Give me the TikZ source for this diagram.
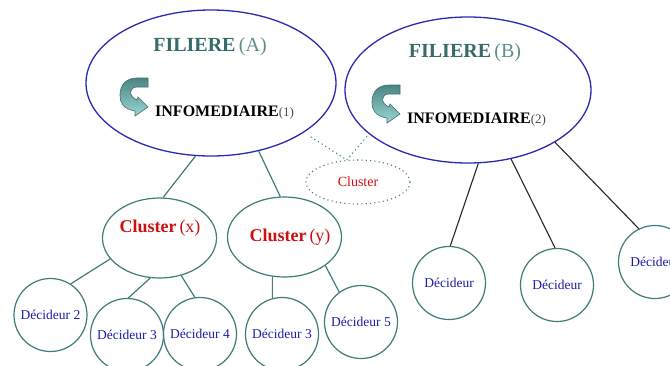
\documentclass[tikz,border=0pt]{standalone}
\usepackage{fontspec}
\setmainfont{Liberation Serif}
\usetikzlibrary{shapes.geometric}
\definecolor{tealc}{HTML}{3F7B79}
\definecolor{bluec}{HTML}{2A2AB0}
\definecolor{filc}{HTML}{356B69}
\definecolor{filc2}{HTML}{5F8F8D}
\definecolor{redc}{HTML}{D01010}
\definecolor{decc}{HTML}{1C1CA8}
\definecolor{arrdark}{HTML}{4A8583}
\definecolor{arrlight}{HTML}{9AD6D4}
\definecolor{arredge}{HTML}{3C6E6C}
\tikzset{
  uturn/.pic={
    \path[draw=arredge, line width=0.6pt, top color=arrdark, bottom color=arrlight]
      (28,0) -- (28,9) -- (17,9) .. controls (9,9) and (8,18) .. (17,22)
      -- (18,19) -- (28,29) -- (15,38) -- (15,33)
      .. controls (3,31) and (0,25) .. (0,17)
      .. controls (0,6) and (7,0) .. (17,0) -- cycle;
  }
}
\begin{document}
\begin{tikzpicture}[x=1pt,y=-1pt,
  fil/.style={ellipse, draw=bluec, line width=1.3pt, inner sep=0},
  clu/.style={ellipse, draw=tealc, line width=1.2pt, inner sep=0, minimum width=114pt, minimum height=80pt},
  dec/.style={circle, draw=tealc, line width=1.2pt, inner sep=0, minimum size=73pt, text=decc, font=\fontsize{13.5}{14}\selectfont},
  link/.style={draw=tealc, line width=1.2pt},
  blink/.style={draw=black!85, line width=1.1pt},
  dotl/.style={draw=tealc, line width=1.1pt, dash pattern=on 1.1pt off 3.2pt},
  ftxt/.style={text=filc, font=\fontsize{20}{22}\selectfont, inner sep=0},
  itxt/.style={anchor=west, inner sep=0, font=\fontsize{16}{18}\selectfont},
  ctxt/.style={text=redc, font=\fontsize{18}{20}\selectfont, inner sep=0}
]
\useasboundingbox (0,0) rectangle (670,365);
\fill[white] (0,0) rectangle (670,365);

% filieres
\node[fil, minimum width=250pt, minimum height=146pt] (A) at (211,83) {};
\node[fil, minimum width=246pt, minimum height=146pt] (B) at (468,90) {};
\node[ftxt] (fa) at (210,47) {\textbf{FILIERE}\,{\color{filc2}(A)}};
\node[ftxt] (fb) at (465,53) {\textbf{FILIERE}\,{\color{filc2}(B)}};
\pic at (120,78) {uturn};
\pic at (372,85) {uturn};
\node[itxt] (ia) at (155,113) {\textbf{INFOMEDIAIRE}{\fontsize{13}{14}\selectfont\color{black!70}(1)}};
\node[itxt] (ib) at (407,120) {\textbf{INFOMEDIAIRE}{\fontsize{13}{14}\selectfont\color{black!70}(2)}};

% clusters
\node[clu] (cx) at (159.5,238) {};
\node[ctxt] (cxt) at (160,228) {\textbf{Cluster}\,(x)};
\node[clu] (cy) at (284.5,237) {};
\node[ctxt] (cyt) at (290,237) {\textbf{Cluster}\,(y)};
\node[ellipse, dotl, minimum width=104pt, minimum height=44pt, inner sep=0, text=redc, font=\fontsize{14}{15}\selectfont] (cl) at (358,182) {Cluster};

% decideurs
\node[dec] (d2) at (50.5,315) {Décideur 2};
\node[dec] (d3) at (127,335) {Décideur 3};
\node[dec] (d4) at (200,334) {Décideur 4};
\node[dec] (d3b) at (282,334) {Décideur 3};
\node[dec] (d5) at (361,322) {Décideur 5};
\node[dec] (da) at (449,283) {Décideur};
\node[dec] (db) at (557,285) {Décideur};
\node[dec] (dc) at (655,262) {Décideur};

% connectors
\draw[link] (A.-102) -- (cx.85);
\draw[link] (A.-55) -- (cy.96);
\draw[link] (cx.-157) -- (d2.57);
\draw[link] (cx.-103) -- (d3.88);
\draw[link] (cx.-60) -- (d4.98);
\draw[link] (cy.-107) -- (d3b.105);
\draw[link] (cy.-35) -- (d5.126);
\draw[blink] (B.-82) -- (da.88);
\draw[blink] (B.-58) -- (db.93);
\draw[blink] (B.-31) -- (dc.116);
\draw[dotl, shorten <=8pt] (A.-28) -- (cl.117);
\draw[dotl, shorten <=3pt] (B.-156) -- (cl.117);
\end{tikzpicture}
\end{document}
